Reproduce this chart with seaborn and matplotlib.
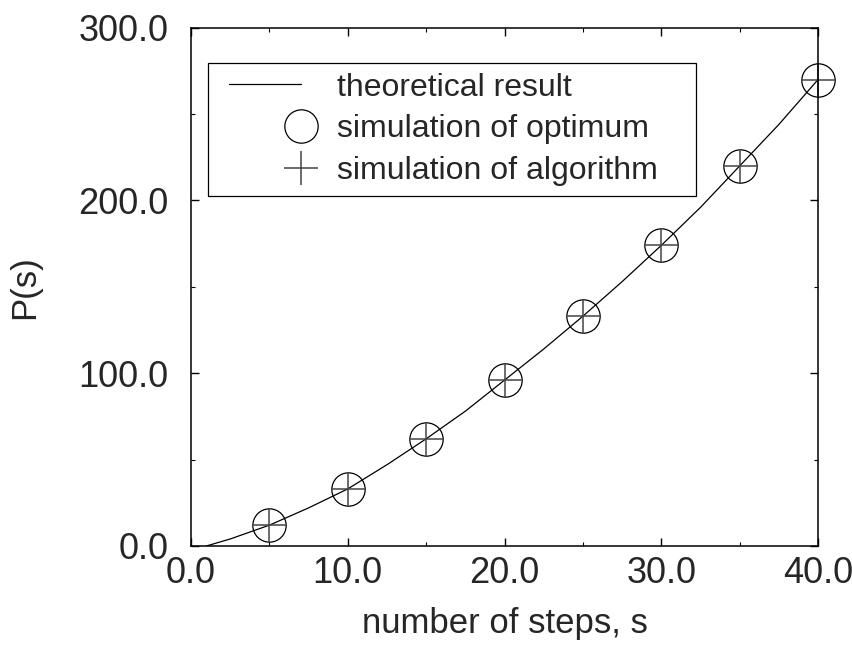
import numpy as np
import pandas as pd
import matplotlib
matplotlib.use('Agg')
import matplotlib.pyplot as plt
import seaborn as sns
from matplotlib.legend_handler import HandlerLine2D
from matplotlib.ticker import MultipleLocator, FormatStrFormatter

# theoretical curve
theory_s = [1, 2.5, 5, 7.5, 10, 12.5, 15, 17.5, 20, 22.5, 25, 27.5, 30, 32.5, 35, 37.5, 40]
theory_p = [0, 4, 12, 22, 33, 47, 62, 78, 96, 114, 133, 153, 174, 196, 220, 244, 270]

# simulation points
sim_s = [5, 10, 15, 20, 25, 30, 35, 40]
sim_opt = [12, 33, 62, 96, 133, 174, 220, 270]
sim_alg = [12, 33, 62, 96, 133, 174, 220, 270]

sns.set_style("ticks")
plt.rcParams['font.family'] = ['Liberation Sans', 'DejaVu Sans']


class GnuHandler(HandlerLine2D):
    # gnuplot-like legend: line starts a bit inside, markers sit at the right end
    def __init__(self, only_marker=False, shift=8, **kw):
        super().__init__(**kw)
        self.only_marker = only_marker
        self.shift = shift

    def get_xdata(self, legend, xdescent, ydescent, width, height, fontsize):
        right = -xdescent + width
        if self.only_marker:
            return [right, right], [right]
        return [-xdescent + self.shift, right], [right]


fig = plt.figure(figsize=(8.53, 6.46), dpi=100)
ax = fig.add_axes([0.224, 0.155, 0.735, 0.802])

df_t = pd.DataFrame({"s": theory_s, "P": theory_p})
df_sim = pd.DataFrame({"s": sim_s, "opt": sim_opt, "alg": sim_alg})

sns.lineplot(data=df_t, x="s", y="P", ax=ax, color="black", lw=0.9,
             label="theoretical result")
sns.lineplot(data=df_sim, x="s", y="opt", ax=ax, ls="none", marker="o",
             markersize=24, mfc="none", mec="black", mew=0.9,
             label="simulation of optimum", clip_on=False)
sns.lineplot(data=df_sim, x="s", y="alg", ax=ax, ls="none", marker="+",
             markersize=24, mec="#444444", mew=1.1,
             label="simulation of algorithm", clip_on=False)

ax.set_xlim(0, 40)
ax.set_ylim(0, 300)
ax.xaxis.set_major_locator(MultipleLocator(10))
ax.xaxis.set_minor_locator(MultipleLocator(5))
ax.yaxis.set_major_locator(MultipleLocator(100))
ax.yaxis.set_minor_locator(MultipleLocator(50))
ax.xaxis.set_major_formatter(FormatStrFormatter('%.1f'))
ax.yaxis.set_major_formatter(FormatStrFormatter('%.1f'))

ax.tick_params(which='both', direction='in', top=True, right=True,
               color='black', labelsize=26)
ax.tick_params(axis='x', which='major', length=6, width=1, pad=7)
ax.tick_params(axis='y', which='major', length=6, width=1, pad=16)
ax.tick_params(which='minor', length=3, width=0.8)
for sp in ax.spines.values():
    sp.set_visible(True)
    sp.set_linewidth(1.1)
    sp.set_color('black')

ax.set_xlabel("number of steps, s", fontsize=25, labelpad=12)
ax.set_ylabel("P(s)", fontsize=25, labelpad=27)

handles, labels = ax.get_legend_handles_labels()
hmap = {handles[0]: GnuHandler(), handles[1]: GnuHandler(only_marker=True),
        handles[2]: GnuHandler(only_marker=True)}
leg = ax.legend(handles, labels, loc='upper left',
                bbox_to_anchor=(0.027, 0.682, 0.778, 0.25), mode='expand',
                fontsize=23, frameon=True, fancybox=False, framealpha=1,
                edgecolor='black', borderaxespad=0, handlelength=2.6,
                handletextpad=1.15, labelspacing=0.37, borderpad=0.3,
                numpoints=1, handler_map=hmap)
leg.get_frame().set_linewidth(0.9)

fig.savefig("out.png", dpi=100)
